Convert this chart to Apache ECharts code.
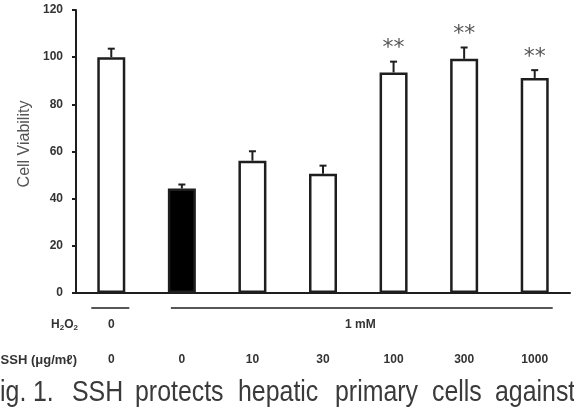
<!DOCTYPE html>
<html>
<head>
    <meta charset="utf-8">
    <title>Cell Viability</title>
    <script src="https://cdn.jsdelivr.net/npm/echarts@6/dist/echarts.min.js"></script>
    <style>
        body { margin: 0; background: #fff; }
        #main { width: 574px; height: 408px; }
    </style>
</head>
<body>
    <div id="main"></div>
    <script type="text/javascript">
        // data
        const ssh = ['0', '0', '10', '30', '100', '300', '1000'];
        const viability = [100, 44.3, 56.1, 50.6, 93.5, 99.3, 91.2];
        const errors = [3.6, 1.7, 4.0, 3.4, 4.6, 4.8, 3.3];
        const signif = ['', '', '', '', '**', '**', '**'];
        const h2o2Groups = [
            { label: '0', from: 0, to: 0 },
            { label: '1 mM', from: 1, to: 6 }
        ];
        const yTicks = { min: 0, max: 120, interval: 20 };
        const caption = ['ig.', '1.', 'SSH', 'protects', 'hepatic', 'primary', 'cells', 'against'];
        const captionX = [0, 33, 72, 135, 238, 335, 432, 495];

        const ink = '#1e1e1e';
        const labelFont = 'Liberation Sans';

        var myChart = echarts.init(document.getElementById('main'));

        const barData = viability.map((v, i) => ({
            value: v,
            itemStyle: { color: i === 1 ? '#000' : '#fff' }
        }));
        const errData = viability.map((v, i) => [i, v, errors[i], signif[i]]);

        var option = {
            animation: false,
            backgroundColor: '#fff',
            grid: { left: 76, right: 4, top: 10, bottom: 115, containLabel: false },
            xAxis: {
                type: 'category',
                data: ssh,
                axisLine: { show: true, lineStyle: { color: ink, width: 2 } },
                axisTick: { show: false },
                axisLabel: {
                    color: '#333', fontWeight: 'bold', fontSize: 12,
                    fontFamily: labelFont, margin: 61, interval: 0
                }
            },
            yAxis: {
                type: 'value',
                min: yTicks.min, max: yTicks.max, interval: yTicks.interval,
                axisLine: { show: true, lineStyle: { color: ink, width: 2 } },
                axisTick: { show: true, length: 4, lineStyle: { color: ink, width: 2 } },
                axisLabel: { color: '#333', fontWeight: 'bold', fontSize: 12, fontFamily: labelFont, margin: 13 },
                splitLine: { show: false }
            },
            series: [
                {
                    type: 'bar',
                    data: barData,
                    barWidth: 28,
                    itemStyle: { borderColor: ink, borderWidth: 2.5 }
                },
                {
                    type: 'custom',
                    data: errData,
                    z: 3,
                    renderItem: function (params, api) {
                        const base = api.coord([api.value(0), api.value(1)]);
                        const top = api.coord([api.value(0), api.value(1) + api.value(2)]);
                        const x = base[0];
                        const st = { stroke: ink, lineWidth: 2 };
                        return {
                            type: 'group',
                            children: [
                                { type: 'line', shape: { x1: x, y1: base[1], x2: x, y2: top[1] }, style: st },
                                { type: 'line', shape: { x1: x - 3.5, y1: top[1], x2: x + 3.5, y2: top[1] }, style: st },
                                {
                                    type: 'text',
                                    style: {
                                        x: x, y: top[1] - 2,
                                        text: api.value(3),
                                        align: 'center', verticalAlign: 'bottom',
                                        fill: '#555', fontSize: 22, fontFamily: 'DejaVu Sans'
                                    }
                                }
                            ]
                        };
                    }
                }
            ]
        };

        myChart.setOption(option);

        // annotation rows under the axis, positioned from the category scale
        const px = i => myChart.convertToPixel({ xAxisIndex: 0 }, i);
        const graphics = [];
        graphics.push({
            type: 'text', x: 25, y: 144, rotation: Math.PI / 2,
            style: {
                text: 'Cell Viability', align: 'center', verticalAlign: 'middle',
                fill: '#555', fontSize: 16, fontFamily: labelFont
            }
        });
        h2o2Groups.forEach(g => {
            const x1 = px(g.from) - (g.from === 0 ? 20 : 11);
            const x2 = px(g.to) + 18;
            const xm = g.from === 0 ? px(g.from) : (px(g.from) + px(g.to)) / 2 + 2;
            graphics.push({
                type: 'line', shape: { x1: x1, y1: 308, x2: x2, y2: 308 },
                style: { stroke: ink, lineWidth: 1.5 }
            });
            graphics.push({
                type: 'text', x: xm, y: 325,
                style: {
                    text: g.label, align: 'center', verticalAlign: 'middle',
                    fill: '#333', fontWeight: 'bold', fontSize: 12, fontFamily: labelFont
                }
            });
        });
        graphics.push({
            type: 'text', x: 78, y: 325,
            style: {
                text: 'H{sub|2}O{sub|2}', align: 'right', verticalAlign: 'middle',
                fill: '#333', fontWeight: 'bold', fontSize: 12, fontFamily: labelFont,
                rich: { sub: { fontSize: 8, fontWeight: 'bold', fill: '#333', verticalAlign: 'bottom', padding: [6, 0, 0, 0] } }
            }
        });
        graphics.push({
            type: 'text', x: 77, y: 360,
            style: {
                text: 'SSH (μg/mℓ)', align: 'right', verticalAlign: 'middle',
                fill: '#333', fontWeight: 'bold', fontSize: 13, fontFamily: labelFont
            }
        });
        caption.forEach((w, i) => {
            graphics.push({
                type: 'text', x: captionX[i], y: 408, scaleX: 0.83,
                style: {
                    text: w, align: 'left', verticalAlign: 'bottom',
                    fill: '#3a3a3a', fontSize: 30, fontFamily: labelFont
                }
            });
        });
        myChart.setOption({ graphic: graphics });
    </script>
</body>
</html>
